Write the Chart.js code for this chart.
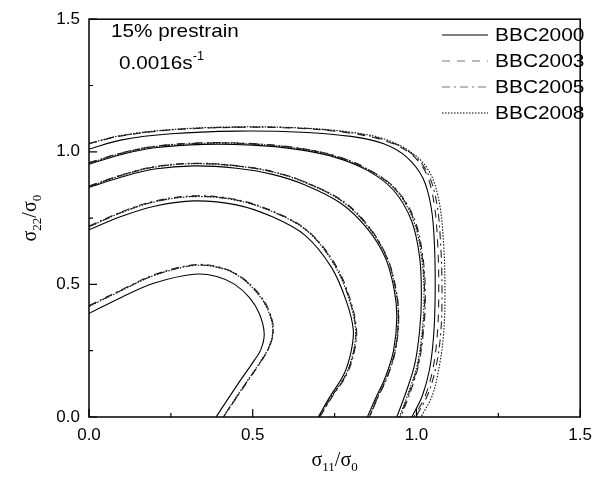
<!DOCTYPE html>
<html>
<head>
<meta charset="utf-8">
<script src="https://cdn.jsdelivr.net/npm/chart.js@4.4.0/dist/chart.umd.min.js"></script>
<style>
  html, body { margin: 0; padding: 0; background: #fff; }
</style>
</head>
<body>
<canvas id="lociChart" width="600" height="485"></canvas>
<script>
// Model names (legend order)
const models = ['BBC2000', 'BBC2003', 'BBC2005', 'BBC2008'];
const majorTicks = [0, 0.5, 1.0, 1.5];
const minorTicks = [0.25, 0.75, 1.25];

// Yield loci, [sigma11/sigma0, sigma22/sigma0], innermost level first
const bbc2000Loci = [
  [[0,0.39],[0.1,0.452],[0.2,0.505],[0.32,0.538],[0.39,0.53],[0.445,0.5],[0.49,0.45],[0.52,0.39],[0.535,0.315],[0.525,0.255],[0.5,0.205],[0.455,0.125],[0.388,0]],
  [[0,0.706],[0.1,0.757],[0.2,0.795],[0.32,0.815],[0.45,0.8],[0.56,0.755],[0.66,0.685],[0.74,0.565],[0.785,0.44],[0.807,0.33],[0.8,0.245],[0.778,0.16],[0.735,0.075],[0.7,0]],
  [[0,0.866],[0.1,0.905],[0.2,0.935],[0.32,0.947],[0.45,0.938],[0.56,0.915],[0.66,0.875],[0.77,0.805],[0.85,0.71],[0.905,0.6],[0.932,0.48],[0.94,0.375],[0.93,0.25],[0.905,0.15],[0.875,0.07],[0.85,0]],
  [[0,0.953],[0.1,0.99],[0.2,1.015],[0.35,1.028],[0.5,1.025],[0.63,1.01],[0.75,0.98],[0.85,0.93],[0.93,0.855],[0.985,0.74],[1.01,0.6],[1.015,0.45],[1.01,0.33],[0.995,0.2],[0.97,0.1],[0.94,0]],
  [[0,1.01],[0.1,1.045],[0.25,1.068],[0.45,1.078],[0.65,1.074],[0.8,1.058],[0.9,1.03],[0.97,0.98],[1.02,0.9],[1.045,0.79],[1.055,0.65],[1.057,0.45],[1.052,0.3],[1.04,0.18],[1.018,0.08],[0.986,0]]
];
const bbc2003Loci = [
  [[0,0.418],[0.1,0.478],[0.2,0.535],[0.32,0.572],[0.4,0.563],[0.46,0.53],[0.51,0.475],[0.545,0.41],[0.562,0.335],[0.552,0.27],[0.525,0.21],[0.478,0.125],[0.41,0]],
  [[0,0.718],[0.1,0.772],[0.2,0.812],[0.32,0.832],[0.45,0.818],[0.57,0.77],[0.67,0.698],[0.75,0.575],[0.795,0.445],[0.815,0.33],[0.808,0.245],[0.785,0.16],[0.74,0.075],[0.703,0]],
  [[0,0.87],[0.1,0.912],[0.2,0.943],[0.32,0.956],[0.45,0.947],[0.56,0.925],[0.66,0.885],[0.775,0.813],[0.855,0.715],[0.91,0.6],[0.937,0.48],[0.945,0.375],[0.935,0.25],[0.91,0.15],[0.88,0.07],[0.856,0]],
  [[0,0.958],[0.1,0.995],[0.2,1.02],[0.35,1.033],[0.5,1.03],[0.63,1.015],[0.75,0.985],[0.85,0.935],[0.935,0.86],[0.992,0.745],[1.018,0.6],[1.025,0.45],[1.02,0.33],[1.005,0.2],[0.98,0.1],[0.95,0]],
  [[0,1.03],[0.1,1.06],[0.25,1.082],[0.45,1.092],[0.65,1.088],[0.8,1.07],[0.9,1.043],[0.975,1.0],[1.025,0.93],[1.052,0.82],[1.065,0.65],[1.068,0.45],[1.063,0.3],[1.05,0.18],[1.027,0.08],[0.992,0]]
];
const bbc2005Loci = [
  [[0,0.42],[0.1,0.48],[0.2,0.537],[0.32,0.574],[0.4,0.565],[0.46,0.532],[0.511,0.477],[0.546,0.412],[0.563,0.336],[0.553,0.27],[0.526,0.21],[0.479,0.125],[0.411,0]],
  [[0,0.72],[0.1,0.774],[0.2,0.814],[0.32,0.834],[0.45,0.82],[0.57,0.772],[0.67,0.7],[0.752,0.576],[0.797,0.446],[0.817,0.33],[0.81,0.245],[0.787,0.16],[0.742,0.075],[0.705,0]],
  [[0,0.871],[0.1,0.913],[0.2,0.944],[0.32,0.957],[0.45,0.948],[0.56,0.926],[0.66,0.886],[0.776,0.814],[0.856,0.716],[0.911,0.6],[0.938,0.48],[0.946,0.375],[0.936,0.25],[0.911,0.15],[0.881,0.07],[0.857,0]],
  [[0,0.959],[0.1,0.996],[0.2,1.021],[0.35,1.034],[0.5,1.031],[0.63,1.016],[0.75,0.986],[0.85,0.936],[0.936,0.861],[0.994,0.746],[1.02,0.6],[1.027,0.45],[1.022,0.33],[1.007,0.2],[0.983,0.1],[0.952,0]],
  [[0,1.031],[0.1,1.061],[0.25,1.083],[0.45,1.093],[0.65,1.089],[0.8,1.072],[0.9,1.046],[0.978,1.0],[1.03,0.93],[1.06,0.82],[1.074,0.65],[1.078,0.45],[1.073,0.3],[1.058,0.18],[1.033,0.08],[0.998,0]]
];
const bbc2008Loci = [
  [[0,0.417],[0.1,0.477],[0.2,0.534],[0.32,0.571],[0.4,0.562],[0.46,0.529],[0.509,0.474],[0.544,0.409],[0.561,0.334],[0.551,0.269],[0.524,0.21],[0.477,0.125],[0.409,0]],
  [[0,0.717],[0.1,0.771],[0.2,0.811],[0.32,0.831],[0.45,0.817],[0.57,0.769],[0.67,0.697],[0.749,0.574],[0.794,0.444],[0.814,0.33],[0.807,0.245],[0.784,0.16],[0.739,0.075],[0.702,0]],
  [[0,0.869],[0.1,0.911],[0.2,0.942],[0.32,0.955],[0.45,0.946],[0.56,0.924],[0.66,0.884],[0.774,0.812],[0.854,0.714],[0.909,0.6],[0.936,0.48],[0.944,0.375],[0.934,0.25],[0.909,0.15],[0.879,0.07],[0.855,0]],
  [[0,0.957],[0.1,0.994],[0.2,1.019],[0.35,1.032],[0.5,1.029],[0.63,1.014],[0.75,0.984],[0.85,0.934],[0.934,0.859],[0.99,0.744],[1.016,0.6],[1.023,0.45],[1.018,0.33],[1.003,0.2],[0.978,0.1],[0.948,0]],
  [[0,1.032],[0.1,1.062],[0.25,1.084],[0.45,1.094],[0.65,1.09],[0.8,1.074],[0.9,1.049],[0.982,1.0],[1.037,0.93],[1.068,0.82],[1.083,0.65],[1.087,0.45],[1.082,0.3],[1.068,0.18],[1.048,0.08],[1.014,0]]
];

const lociByModel = [bbc2000Loci, bbc2003Loci, bbc2005Loci, bbc2008Loci];
const lineDashes = [[], [8, 7], [8, 4, 2, 4], [1.5, 1.5]];
const lineColors = ['#000', '#222', '#222', '#111'];

const datasets = [];
lociByModel.forEach((loci, m) => {
  loci.forEach(curve => {
    datasets.push({
      label: models[m],
      data: curve.map(p => ({ x: p[0], y: p[1] })),
      showLine: true,
      tension: 0.35,
      pointRadius: 0,
      borderWidth: 1.1,
      borderColor: lineColors[m],
      borderDash: lineDashes[m],
      fill: false
    });
  });
});

const SERIF = '"Liberation Serif", "Times New Roman", serif';
const SANS = '"Liberation Sans", Arial, sans-serif';

function drawSubscripted(ctx, parts, x, y) {
  // parts: [text, isSub], centred on x
  let total = 0;
  parts.forEach(p => {
    ctx.font = (p[1] ? '13px ' : '20px ') + SERIF;
    total += ctx.measureText(p[0]).width;
  });
  let cx = x - total / 2;
  parts.forEach(p => {
    ctx.font = (p[1] ? '13px ' : '20px ') + SERIF;
    ctx.fillText(p[0], cx, p[1] ? y + 5 : y);
    cx += ctx.measureText(p[0]).width;
  });
}

// text that is a bit wider than tall, like the original figure
function wideText(ctx, text, x, y, size, stretch) {
  ctx.save();
  ctx.translate(x, y);
  ctx.scale(stretch, 1);
  ctx.font = size + 'px ' + SANS;
  ctx.fillText(text, 0, 0);
  const w = ctx.measureText(text).width * stretch;
  ctx.restore();
  return w;
}

const decorations = {
  id: 'decorations',
  afterDatasetsDraw(chart) {
    const ctx = chart.ctx;
    const area = chart.chartArea;
    const xs = chart.scales.x;
    const ys = chart.scales.y;
    ctx.save();
    ctx.strokeStyle = '#000';
    ctx.fillStyle = '#000';

    // frame
    ctx.lineWidth = 1.5;
    ctx.strokeRect(area.left, area.top, area.right - area.left, area.bottom - area.top);

    // inward ticks on bottom and left
    ctx.lineWidth = 1.2;
    ctx.beginPath();
    majorTicks.forEach(v => {
      const px = xs.getPixelForValue(v);
      ctx.moveTo(px, area.bottom); ctx.lineTo(px, area.bottom - 8);
      const py = ys.getPixelForValue(v);
      ctx.moveTo(area.left, py); ctx.lineTo(area.left + 8, py);
    });
    minorTicks.forEach(v => {
      const px = xs.getPixelForValue(v);
      ctx.moveTo(px, area.bottom); ctx.lineTo(px, area.bottom - 4);
      const py = ys.getPixelForValue(v);
      ctx.moveTo(area.left, py); ctx.lineTo(area.left + 4, py);
    });
    ctx.stroke();

    // annotation text
    ctx.textBaseline = 'middle';
    ctx.textAlign = 'left';
    wideText(ctx, '15% prestrain', 111, 32, 19, 1.09);
    const w = wideText(ctx, '0.0016s', 119, 64, 19, 1.09);
    wideText(ctx, '-1', 119 + w, 57, 12, 1.05);

    // legend
    const rowY = [35, 61, 87, 113];
    models.forEach((name, m) => {
      ctx.beginPath();
      ctx.lineWidth = 1.2;
      ctx.strokeStyle = m === 1 || m === 2 ? '#777' : '#000';
      ctx.setLineDash(lineDashes[m]);
      ctx.moveTo(442, rowY[m]); ctx.lineTo(488, rowY[m]);
      ctx.stroke();
      ctx.setLineDash([]);
      wideText(ctx, name, 495, rowY[m] + 1, 19, 1.1);
    });

    // axis titles with subscripts
    ctx.textBaseline = 'alphabetic';
    drawSubscripted(ctx, [['σ', false], ['11', true], ['/σ', false], ['0', true]], (area.left + area.right) / 2, 466);
    ctx.translate(36, (area.top + area.bottom) / 2);
    ctx.rotate(-Math.PI / 2);
    drawSubscripted(ctx, [['σ', false], ['22', true], ['/σ', false], ['0', true]], 0, 0);
    ctx.restore();
  }
};

new Chart(document.getElementById('lociChart'), {
  type: 'scatter',
  data: { datasets: datasets },
  options: {
    responsive: false,
    animation: false,
    layout: { padding: { top: 17, right: 9, left: 0, bottom: 0 } },
    plugins: {
      legend: { display: false },
      tooltip: { enabled: false }
    },
    scales: {
      x: {
        min: 0, max: 1.5,
        grid: { display: false, drawTicks: false },
        border: { display: false },
        afterFit: s => { s.height = 68; },
        ticks: {
          stepSize: 0.5, padding: 8, color: '#000',
          font: { family: SANS, size: 17 },
          callback: v => v.toFixed(1)
        }
      },
      y: {
        min: 0, max: 1.5,
        grid: { display: false, drawTicks: false },
        border: { display: false },
        afterFit: s => { s.width = 89; },
        ticks: {
          stepSize: 0.5, padding: 9, color: '#000',
          font: { family: SANS, size: 17 },
          callback: v => v.toFixed(1)
        }
      }
    }
  },
  plugins: [decorations]
});
</script>
</body>
</html>
